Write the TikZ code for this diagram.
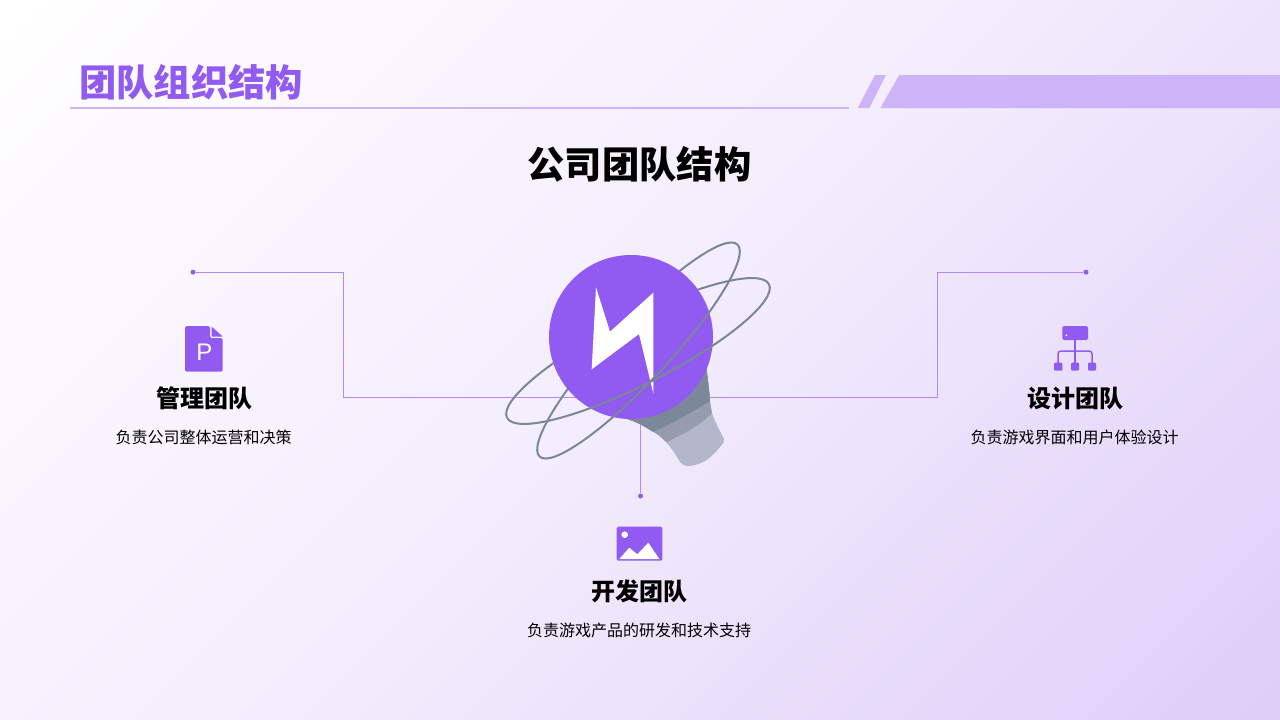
\documentclass[tikz,border=0pt]{standalone}
\usepackage{fontspec}
\newfontfamily\cjk{Noto Sans CJK SC}
\newfontfamily\latinfont{Liberation Sans}
\definecolor{bgstart}{HTML}{FFFEFF}
\definecolor{bgmiddle}{HTML}{F3EDFD}
\definecolor{bgend}{HTML}{DFCEF8}
\definecolor{violet}{HTML}{915BF2}
\definecolor{linkviolet}{HTML}{B488F8}
\definecolor{bandviolet}{HTML}{CDB4F9}
\definecolor{orbitgray}{HTML}{7A8794}
\definecolor{baselight}{HTML}{B3B7C9}
\definecolor{basemid}{HTML}{969CAE}
\definecolor{basedark}{HTML}{7A8899}
\pgfdeclareverticalshading{bgfade}{100bp}{color(0bp)=(bgstart); color(15bp)=(bgstart); color(50bp)=(bgmiddle); color(85bp)=(bgend); color(100bp)=(bgend)}
\tikzset{
  linkline/.style = { draw = linkviolet, line width = 1pt },
  linkdot/.style = { circle, fill = violet, inner sep = 0pt, minimum size = 5pt },
  orbit/.style = { draw = orbitgray, line width = 2pt },
  teamname/.style = { font = \cjk\bfseries\fontsize{24}{24}\selectfont, inner sep = 0pt },
  teamtext/.style = { font = \cjk\fontsize{16}{16}\selectfont, inner sep = 0pt }
}

\begin{document}
\begin{tikzpicture}
  [
    x = 1pt, y = -1pt
  ]
    \useasboundingbox (0,0) rectangle (1280,720);
    \path [shading = bgfade, shading angle = 225] (0,0) rectangle (1280,720);

    % header
    \node (title) [anchor = west, inner sep = 0pt, text = violet, font = \cjk\bfseries\fontsize{37.3}{37.3}\selectfont] at (79,82) {团队组织结构};
    \draw [draw = bandviolet, line width = 1.5pt] (70,108) -- (849,108);
    \fill [bandviolet] (857.7,108) -- (875,75) -- (886,75) -- (869.3,108) -- cycle;
    \fill [bandviolet] (880.3,108) -- (899.3,75) -- (1280,75) -- (1280,108) -- cycle;
    \node (heading) [inner sep = 0pt, font = \cjk\bfseries\fontsize{37.3}{37.3}\selectfont] at (639.5,164) {公司团队结构};

    % connectors
    \coordinate (core) at (631,337);
    \node (leftdot) [linkdot] at (193,272.2) {};
    \node (rightdot) [linkdot] at (1086,272.2) {};
    \node (lowdot) [linkdot] at (640.5,496) {};
    \coordinate (leftknee) at (343,397);
    \coordinate (rightknee) at (937,397);
    \draw [linkline] (leftdot) -| (leftknee) -- (leftknee -| core);
    \draw [linkline] (rightdot) -| (rightknee) -- (rightknee -| core);
    \draw [linkline] (lowdot) -- (lowdot |- core);

    % bulb base
    \begin{scope}
      \clip (705,355) -- (709.6,395) .. controls (710,405) and (711,408) .. (712,413)
        .. controls (715,422) and (720,431) .. (724,439)
        .. controls (724,443) and (722,445) .. (720,447)
        .. controls (715,454) and (707,460) .. (703,462)
        .. controls (697,465) and (692,466) .. (687,466)
        .. controls (684,466) and (682,464) .. (680,462)
        .. controls (676,455) and (672,449) .. (667,443)
        .. controls (662,437) and (656,433) .. (650,430)
        .. controls (641,424) and (632,420) .. (620,417) -- cycle;
      \fill [baselight] (600,340) rectangle (740,480);
      \fill [basemid] (600,340) -- (740,340) -- (740,400) -- (712,413)
        .. controls (697,428) and (682,434) .. (667,442) -- (600,420) -- cycle;
      \fill [basedark] (600,340) -- (740,340) -- (740,390) -- (712,400)
        .. controls (695,410) and (675,422) .. (653,432) -- (600,420) -- cycle;
    \end{scope}

    % bulb, back halves of the orbits first
    \begin{scope} [shift = {(638.5,350.5)}, rotate = 47]
      \draw [orbit] (145,0) arc [start angle = 0, end angle = -180, x radius = 145, y radius = 30];
    \end{scope}
    \begin{scope} [shift = {(638,351)}, rotate = 27]
      \draw [orbit] (147,0) arc [start angle = 0, end angle = -180, x radius = 147, y radius = 33];
    \end{scope}
    \node (bulb) [circle, fill = violet, inner sep = 0pt, minimum size = 164pt] at (core) {};
    \fill [white] (596,287.3) -- (610,331.7) -- (653.3,292.7) -- (653.3,393.3) -- (639,334) -- (591.7,369.3) -- cycle;
    \begin{scope} [shift = {(638.5,350.5)}, rotate = 47]
      \draw [orbit] (145,0) arc [start angle = 0, end angle = 180, x radius = 145, y radius = 30];
    \end{scope}
    \begin{scope} [shift = {(638,351)}, rotate = 27]
      \draw [orbit] (147,0) arc [start angle = 0, end angle = 180, x radius = 147, y radius = 33];
    \end{scope}

    % left team
    \fill [violet, rounded corners = 1.5pt] (185,326) -- (210,326) -- (210,338) -- (222.7,338) -- (222.7,371.7) -- (185,371.7) -- cycle;
    \fill [violet] (211.5,326.5) -- (222.7,336.5) -- (211.5,336.5) -- cycle;
    \node (fileletter) [inner sep = 0pt, text = white, font = \latinfont\fontsize{24}{24}\selectfont] at (204.5,352) {P};
    \node (leftname) [teamname] at (204,398) {管理团队};
    \node (lefttext) [teamtext] at (203.5,437) {负责公司整体运营和决策};

    % right team
    \fill [violet, rounded corners = 1.5pt] (1062.3,326) rectangle (1088,340);
    \fill [white] (1066.3,335.3) circle [radius = 1];
    \draw [violet, line width = 1.5pt] (1075,340) -- (1075,364);
    \draw [violet, line width = 1.5pt, rounded corners = 3pt] (1058,364) -- (1058,351) -- (1092,351) -- (1092,364);
    \fill [violet, rounded corners = 1pt] (1054,362.7) rectangle (1062.3,370.7);
    \fill [violet, rounded corners = 1pt] (1071,362.7) rectangle (1079,370.7);
    \fill [violet, rounded corners = 1pt] (1088,362.7) rectangle (1096,370.7);
    \node (rightname) [teamname] at (1075,398) {设计团队};
    \node (righttext) [teamtext] at (1074.5,437) {负责游戏界面和用户体验设计};

    % lower team
    \fill [violet, rounded corners = 1.5pt] (616.7,526.7) rectangle (662.3,560.7);
    \fill [white] (624.7,534.7) circle [radius = 3.3];
    \fill [white] (619.3,559) -- (629.3,547.7) -- (637.3,554.3) -- (648.3,542.7) -- (659.3,559) -- cycle;
    \node (lowname) [teamname] at (639,591) {开发团队};
    \node (lowtext) [teamtext] at (639,630) {负责游戏产品的研发和技术支持};
  \end{tikzpicture}
\end{document}
